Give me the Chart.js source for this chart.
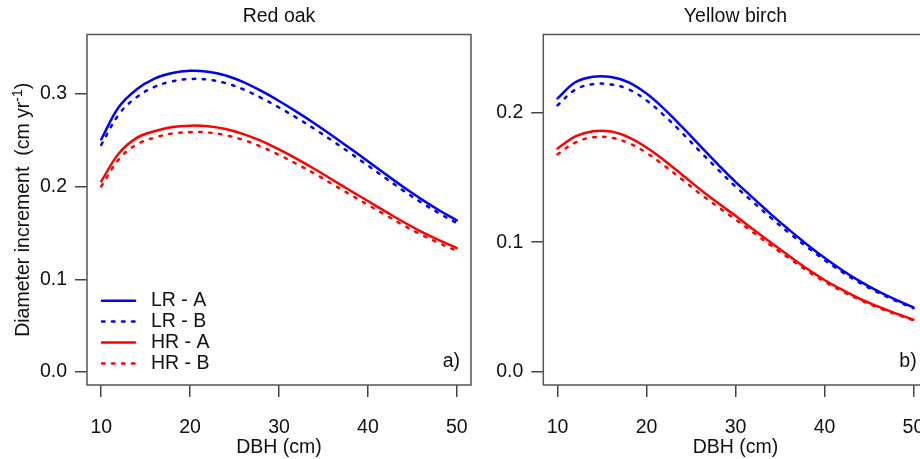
<!DOCTYPE html>
<html>
<head>
<meta charset="utf-8">
<script src="https://cdn.jsdelivr.net/npm/chart.js@4.4.1/dist/chart.umd.min.js"></script>
<style>
html, body { margin: 0; padding: 0; background: #fff; overflow: hidden; }
#wrap { position: relative; width: 920px; height: 459px; overflow: hidden; background: #fff; }
#wrap canvas { position: absolute; top: 0; }
#oak { left: 0; }
#birch { left: 480px; }
</style>
</head>
<body>
<div id="wrap">
  <canvas id="oak" width="480" height="459"></canvas>
  <canvas id="birch" width="460" height="459"></canvas>
</div>
<script>
// DBH (cm)
const dbh = [10, 12, 14, 16, 18, 20, 22, 24, 26, 28, 30, 32, 34, 36, 38, 40, 42, 44, 46, 48, 50];

// Red oak, diameter increment (cm/yr)
const oakLRA = [0.251, 0.286, 0.305, 0.3165, 0.3225, 0.3248, 0.3238, 0.3198, 0.3126, 0.3031, 0.2923, 0.2806, 0.2681, 0.2549, 0.2412, 0.2272, 0.2132, 0.1995, 0.1865, 0.1745, 0.1635];
const oakLRB = [0.245, 0.278, 0.2965, 0.3075, 0.3135, 0.316, 0.3153, 0.3116, 0.3048, 0.2957, 0.2853, 0.2741, 0.2621, 0.2494, 0.2362, 0.2227, 0.209, 0.1956, 0.1829, 0.1712, 0.1605];
const oakHRA = [0.2056, 0.236, 0.2525, 0.2597, 0.2642, 0.2657, 0.2651, 0.262, 0.2566, 0.2492, 0.24, 0.2298, 0.2189, 0.2074, 0.1958, 0.1844, 0.173, 0.1618, 0.1515, 0.1422, 0.1337];
const oakHRB = [0.2002, 0.2295, 0.2455, 0.2527, 0.2572, 0.2587, 0.2583, 0.2554, 0.2502, 0.243, 0.2342, 0.2244, 0.2139, 0.2027, 0.1914, 0.1803, 0.1692, 0.1582, 0.1481, 0.139, 0.1307];

// Yellow birch
const birchLRA = [0.2108, 0.2232, 0.2275, 0.2272, 0.2232, 0.2145, 0.2025, 0.1888, 0.1744, 0.1602, 0.1465, 0.134, 0.1214, 0.1097, 0.0985, 0.088, 0.0784, 0.0698, 0.0623, 0.0557, 0.0498];
const birchLRB = [0.2055, 0.2175, 0.2217, 0.2215, 0.2177, 0.2092, 0.1975, 0.1841, 0.17, 0.1562, 0.1429, 0.1308, 0.1186, 0.1073, 0.0965, 0.0863, 0.077, 0.0686, 0.0613, 0.0549, 0.0491];
const birchHRA = [0.1722, 0.1815, 0.1855, 0.1852, 0.1808, 0.173, 0.163, 0.152, 0.1408, 0.1303, 0.1203, 0.1098, 0.0995, 0.0895, 0.0797, 0.0709, 0.0633, 0.0564, 0.0505, 0.0452, 0.0404];
const birchHRB = [0.1678, 0.1768, 0.1808, 0.1805, 0.1763, 0.1688, 0.159, 0.1483, 0.1374, 0.1273, 0.1176, 0.1074, 0.0974, 0.0877, 0.0782, 0.0696, 0.0622, 0.0555, 0.0497, 0.0446, 0.0399];

const seriesNames = ['LR - A', 'LR - B', 'HR - A', 'HR - B'];
const xTicks = [10, 20, 30, 40, 50];
const oakYTicks = [0, 0.1, 0.2, 0.3];
const birchYTicks = [0, 0.1, 0.2];

const FAMILY = "'Liberation Sans', Arial, Helvetica, sans-serif";
const FSIZE = 19.5;
const TXT = '#111';
const BLUE = '#0000ff';
const RED = '#ff0000';
const DOTS = [2.5, 7.5];

Chart.defaults.font.family = FAMILY;
Chart.defaults.font.size = FSIZE;
Chart.defaults.color = TXT;

function makeSets(a, b, c, d) {
    const vals = [a, b, c, d];
    const cols = [BLUE, BLUE, RED, RED];
    return vals.map((v, i) => ({
        label: seriesNames[i],
        data: dbh.map((x, j) => ({ x: x, y: v[j] })),
        borderColor: cols[i],
        borderWidth: 2.5,
        borderDash: i % 2 ? DOTS : [],
        borderCapStyle: 'round',
        borderJoinStyle: 'round',
        pointRadius: 0,
        tension: 0.4,
        fill: false
    }));
}

// box, titles, tag and the legend (drawn inside plot like in R)
const panelDecor = {
    id: 'panelDecor',
    afterDraw(chart, args, opts) {
        const { ctx, chartArea: { left, right, top, bottom } } = chart;
        const mid = (left + right) / 2;
        ctx.save();
        ctx.strokeStyle = '#555';
        ctx.lineWidth = 1.5;
        ctx.setLineDash([]);
        ctx.strokeRect(left, top, right - left, bottom - top);

        ctx.fillStyle = TXT;
        ctx.font = FSIZE + 'px ' + FAMILY;
        ctx.textAlign = 'center';
        ctx.textBaseline = 'middle';
        ctx.fillText(opts.title, mid, 17);
        ctx.fillText('DBH (cm)', mid, 448);
        ctx.textAlign = 'right';
        ctx.fillText(opts.tag, right - 11, 362);

        if (opts.legend) {
            chart.data.datasets.forEach((ds, i) => {
                const y = 300.7 + i * 20.9;
                ctx.beginPath();
                ctx.strokeStyle = ds.borderColor;
                ctx.lineWidth = ds.borderWidth;
                ctx.lineCap = 'round';
                ctx.setLineDash(ds.borderDash);
                ctx.moveTo(left + 15, y);
                ctx.lineTo(left + 48, y);
                ctx.stroke();
                ctx.setLineDash([]);
                ctx.textAlign = 'left';
                ctx.fillText(ds.label, left + 64, y);
            });
        }

        if (opts.yTitle) {
            // Diameter increment (cm yr^-1), rotated
            const main = 'Diameter increment  (cm yr';
            const sup = '-1';
            ctx.translate(29, (top + bottom) / 2);
            ctx.rotate(-Math.PI / 2);
            ctx.textAlign = 'left';
            ctx.textBaseline = 'alphabetic';
            const supFont = (FSIZE * 0.72) + 'px ' + FAMILY;
            const w1 = ctx.measureText(main).width;
            ctx.font = supFont;
            const w2 = ctx.measureText(sup).width;
            ctx.font = FSIZE + 'px ' + FAMILY;
            const w3 = ctx.measureText(')').width;
            let x0 = -(w1 + w2 + w3) / 2;
            ctx.fillText(main, x0, 0);
            ctx.font = supFont;
            ctx.fillText(sup, x0 + w1, -7);
            ctx.font = FSIZE + 'px ' + FAMILY;
            ctx.fillText(')', x0 + w1 + w2, 0);
        }
        ctx.restore();
    }
};

function makeChart(id, sets, yMin, yMax, yTicks, yWidth, padRight, decor) {
    const tickGrid = {
        display: true,
        drawOnChartArea: false,
        drawTicks: true,
        tickLength: 12,
        color: '#444',
        lineWidth: 1.5
    };
    return new Chart(document.getElementById(id), {
        type: 'line',
        data: { datasets: sets },
        options: {
            responsive: false,
            animation: false,
            layout: { padding: { top: 34.5, right: padRight, bottom: 0, left: 0 } },
            scales: {
                x: {
                    type: 'linear',
                    min: 8.4,
                    max: 51.6,
                    afterBuildTicks: s => { s.ticks = xTicks.map(v => ({ value: v })); },
                    // fixed height, and no extra side margin from the labels
                    afterFit: s => { s.height = 74; s.paddingLeft = 0; s.paddingRight = 0; },
                    grid: tickGrid,
                    border: { display: false },
                    ticks: { padding: 19, color: TXT, maxRotation: 0 }
                },
                y: {
                    type: 'linear',
                    min: yMin,
                    max: yMax,
                    afterBuildTicks: s => { s.ticks = yTicks.map(v => ({ value: v })); },
                    afterFit: s => { s.width = yWidth; s.paddingTop = 0; s.paddingBottom = 0; },
                    grid: tickGrid,
                    border: { display: false },
                    ticks: { padding: 8, color: TXT, callback: v => v.toFixed(1) }
                }
            },
            plugins: {
                legend: { display: false },
                tooltip: { enabled: false },
                panelDecor: decor
            }
        },
        plugins: [panelDecor]
    });
}

makeChart('oak', makeSets(oakLRA, oakLRB, oakHRA, oakHRB), -0.014, 0.364, oakYTicks, 87, 9,
    { title: 'Red oak', tag: 'a)', legend: true, yTitle: true });
makeChart('birch', makeSets(birchLRA, birchLRB, birchHRA, birchHRB), -0.01, 0.26, birchYTicks, 63.3, 12.3,
    { title: 'Yellow birch', tag: 'b)', legend: false, yTitle: false });
</script>
</body>
</html>
